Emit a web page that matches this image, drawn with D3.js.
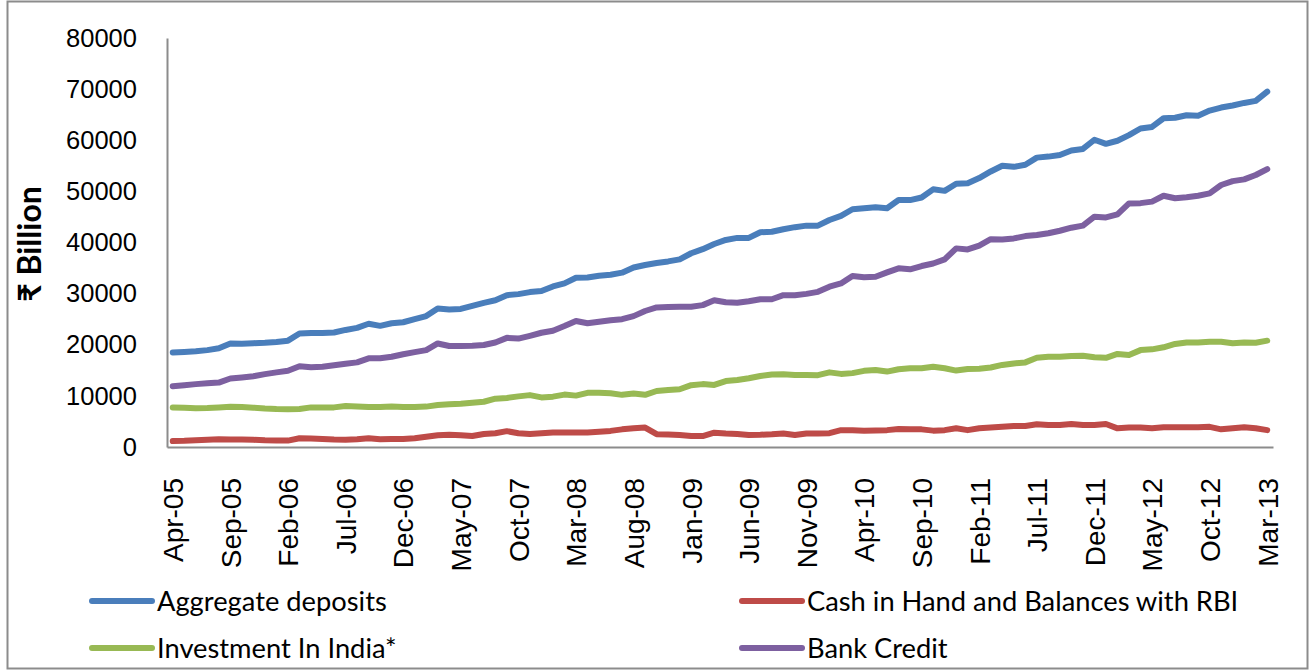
<!DOCTYPE html>
<html lang="en">
<head>
    <meta charset="UTF-8">
    <title>Scheduled Commercial Banks</title>
    <script src="https://d3js.org/d3.v7.min.js"></script>
    <style>
        body {
            margin: 0;
            background: #fff;
        }
        .tick text {
            fill: #000;
        }
    </style>
</head>
<body>
    <div id="chart"></div>

<script>
    // month categories, Apr-05 .. Mar-13
    var months = [
        'Apr-05','May-05','Jun-05','Jul-05','Aug-05','Sep-05','Oct-05','Nov-05','Dec-05','Jan-06','Feb-06','Mar-06',
        'Apr-06','May-06','Jun-06','Jul-06','Aug-06','Sep-06','Oct-06','Nov-06','Dec-06','Jan-07','Feb-07','Mar-07',
        'Apr-07','May-07','Jun-07','Jul-07','Aug-07','Sep-07','Oct-07','Nov-07','Dec-07','Jan-08','Feb-08','Mar-08',
        'Apr-08','May-08','Jun-08','Jul-08','Aug-08','Sep-08','Oct-08','Nov-08','Dec-08','Jan-09','Feb-09','Mar-09',
        'Apr-09','May-09','Jun-09','Jul-09','Aug-09','Sep-09','Oct-09','Nov-09','Dec-09','Jan-10','Feb-10','Mar-10',
        'Apr-10','May-10','Jun-10','Jul-10','Aug-10','Sep-10','Oct-10','Nov-10','Dec-10','Jan-11','Feb-11','Mar-11',
        'Apr-11','May-11','Jun-11','Jul-11','Aug-11','Sep-11','Oct-11','Nov-11','Dec-11','Jan-12','Feb-12','Mar-12',
        'Apr-12','May-12','Jun-12','Jul-12','Aug-12','Sep-12','Oct-12','Nov-12','Dec-12','Jan-13','Feb-13','Mar-13'
    ];

    var aggregateDeposits = [
        18500,18600,18750,18950,19300,20250,20200,20300,20400,20550,20800,22200,
        22300,22300,22400,22900,23300,24100,23700,24200,24400,25000,25600,27100,
        26900,27000,27600,28200,28700,29700,29900,30300,30500,31400,32000,33100,
        33150,33500,33700,34100,35100,35600,36000,36300,36700,37900,38700,39700,
        40500,40900,40900,42000,42100,42600,43000,43300,43300,44400,45200,46500,
        46700,46900,46700,48300,48300,48800,50400,50100,51500,51600,52600,53900,
        55000,54800,55200,56600,56800,57100,58000,58300,60100,59300,59900,61000,
        62300,62600,64300,64400,64900,64800,65800,66400,66800,67300,67700,69500
    ];

    var cashInHand = [
        1150,1200,1300,1400,1500,1450,1450,1400,1300,1250,1250,1700,
        1650,1550,1450,1400,1500,1700,1500,1550,1550,1700,2000,2300,
        2400,2300,2150,2550,2700,3100,2700,2550,2700,2850,2850,2850,
        2850,3000,3150,3450,3650,3800,2500,2450,2350,2150,2150,2800,
        2650,2550,2350,2400,2500,2650,2350,2650,2650,2700,3300,3300,
        3200,3250,3300,3500,3450,3450,3200,3300,3650,3300,3650,3800,
        3950,4100,4100,4450,4300,4300,4500,4300,4300,4500,3650,3800,
        3800,3650,3850,3850,3850,3850,3950,3450,3650,3850,3650,3300
    ];

    var investmentInIndia = [
        7750,7700,7600,7650,7750,7850,7800,7700,7550,7450,7400,7450,
        7750,7750,7750,8000,7900,7800,7800,7900,7800,7800,7900,8200,
        8350,8450,8650,8850,9450,9600,9900,10150,9700,9850,10250,10050,
        10600,10600,10500,10200,10450,10200,10950,11150,11300,12100,12300,12150,
        12900,13100,13450,13900,14200,14250,14100,14100,14050,14600,14300,14450,
        14900,15050,14750,15200,15400,15400,15700,15400,14950,15250,15300,15550,
        16050,16350,16550,17450,17650,17650,17800,17850,17550,17450,18200,18000,
        18950,19100,19500,20150,20450,20450,20600,20600,20300,20450,20400,20800
    ];

    var bankCredit = [
        11900,12100,12300,12450,12600,13400,13600,13850,14250,14600,14900,15800,
        15600,15700,16000,16300,16550,17350,17350,17650,18150,18550,18950,20250,
        19750,19750,19800,19950,20450,21350,21200,21750,22350,22750,23650,24650,
        24200,24500,24800,25000,25600,26600,27300,27400,27450,27450,27750,28700,
        28300,28200,28500,28900,28900,29700,29700,29950,30350,31350,32000,33450,
        33200,33300,34150,34950,34750,35400,35900,36700,38850,38650,39400,40650,
        40600,40800,41250,41450,41800,42300,42900,43300,45050,44900,45500,47650,
        47700,48000,49150,48650,48850,49150,49600,51250,52000,52350,53200,54350
    ];

    var yTicks = [0, 10000, 20000, 30000, 40000, 50000, 60000, 70000, 80000];
    var xTickLabels = months.filter(function(d, i){ return i % 5 === 0; });

    var series = [
        {name: 'Aggregate deposits', values: aggregateDeposits, color: '#4a7ebb'},
        {name: 'Cash in Hand and Balances with RBI', values: cashInHand, color: '#be4b48'},
        {name: 'Investment In India*', values: investmentInIndia, color: '#98b954'},
        {name: 'Bank Credit', values: bankCredit, color: '#7d60a0'}
    ];

    var w = 1314, h = 671;
    var plot = {left: 167, right: 1273, top: 38, bottom: 447};

    var svg = d3.select('#chart')
                .append('svg')
                .attr('width', w)
                .attr('height', h);

    // outer frame
    svg.append('rect')
       .attr('x', 7.5)
       .attr('y', 1.5)
       .attr('width', 1300)
       .attr('height', 667)
       .attr('fill', '#fff')
       .attr('stroke', '#8c8c8c')
       .attr('stroke-width', 2);

    var xScale = d3.scalePoint()
                   .domain(months)
                   .range([plot.left, plot.right])
                   .padding(0.5);

    var yScale = d3.scaleLinear()
                   .domain([0, 80000])
                   .range([plot.bottom, plot.top]);

    var yAxis = d3.axisLeft(yScale)
                  .tickValues(yTicks)
                  .tickFormat(d3.format('d'))
                  .tickSize(0)
                  .tickPadding(30);

    var xAxis = d3.axisBottom(xScale)
                  .tickValues(xTickLabels)
                  .tickSize(0)
                  .tickSizeOuter(0);

    var gy = svg.append('g')
        .attr('transform', 'translate(' + plot.left + ',0)')
        .call(yAxis);
    gy.select('.domain').attr('stroke', '#8c8c8c').attr('stroke-width', 2);
    gy.selectAll('text')
      .style('font-family', 'Liberation Sans, Arial, sans-serif')
      .style('font-size', '25.5px');

    var gx = svg.append('g')
        .attr('transform', 'translate(0,' + plot.bottom + ')')
        .call(xAxis);
    gx.select('.domain').attr('stroke', '#8c8c8c').attr('stroke-width', 2);
    gx.selectAll('text')
      .attr('transform', 'rotate(-90)')
      .attr('text-anchor', 'end')
      .attr('x', -31)
      .attr('y', 0)
      .attr('dy', '0.35em')
      .style('font-family', 'Liberation Sans, Arial, sans-serif')
      .style('font-size', '28px');

    // y axis title
    svg.append('text')
       .attr('transform', 'translate(30,244) rotate(-90)')
       .attr('text-anchor', 'middle')
       .attr('dy', '0.35em')
       .style('font-family', 'Lato, "Noto Sans", "DejaVu Sans", sans-serif')
       .style('font-weight', 'bold')
       .style('font-size', '32px')
       .text('₹ Billion');

    var line = d3.line()
                 .x(function(d, i){ return xScale(months[i]); })
                 .y(function(d){ return yScale(d); });

    svg.append('g').selectAll('path')
       .data(series)
       .enter()
       .append('path')
       .attr('d', function(d){ return line(d.values); })
       .attr('fill', 'none')
       .attr('stroke', function(d){ return d.color; })
       .attr('stroke-width', 6)
       .attr('stroke-linejoin', 'round')
       .attr('stroke-linecap', 'round');

    // legend, two columns
    var legendPos = [[92, 601], [742, 601], [92, 648], [742, 648]];
    var legend = svg.append('g').selectAll('g')
                    .data(series)
                    .enter()
                    .append('g')
                    .attr('transform', function(d, i){ return 'translate(' + legendPos[i][0] + ',' + legendPos[i][1] + ')'; });
    legend.append('line')
          .attr('x1', 0)
          .attr('x2', 60)
          .attr('stroke', function(d){ return d.color; })
          .attr('stroke-width', 6)
          .attr('stroke-linecap', 'round');
    legend.append('text')
          .attr('x', 65)
          .attr('dy', '0.35em')
          .style('font-family', 'Lato, sans-serif')
          .style('font-size', '27.3px')
          .text(function(d){ return d.name; });
</script>
</body>
</html>
